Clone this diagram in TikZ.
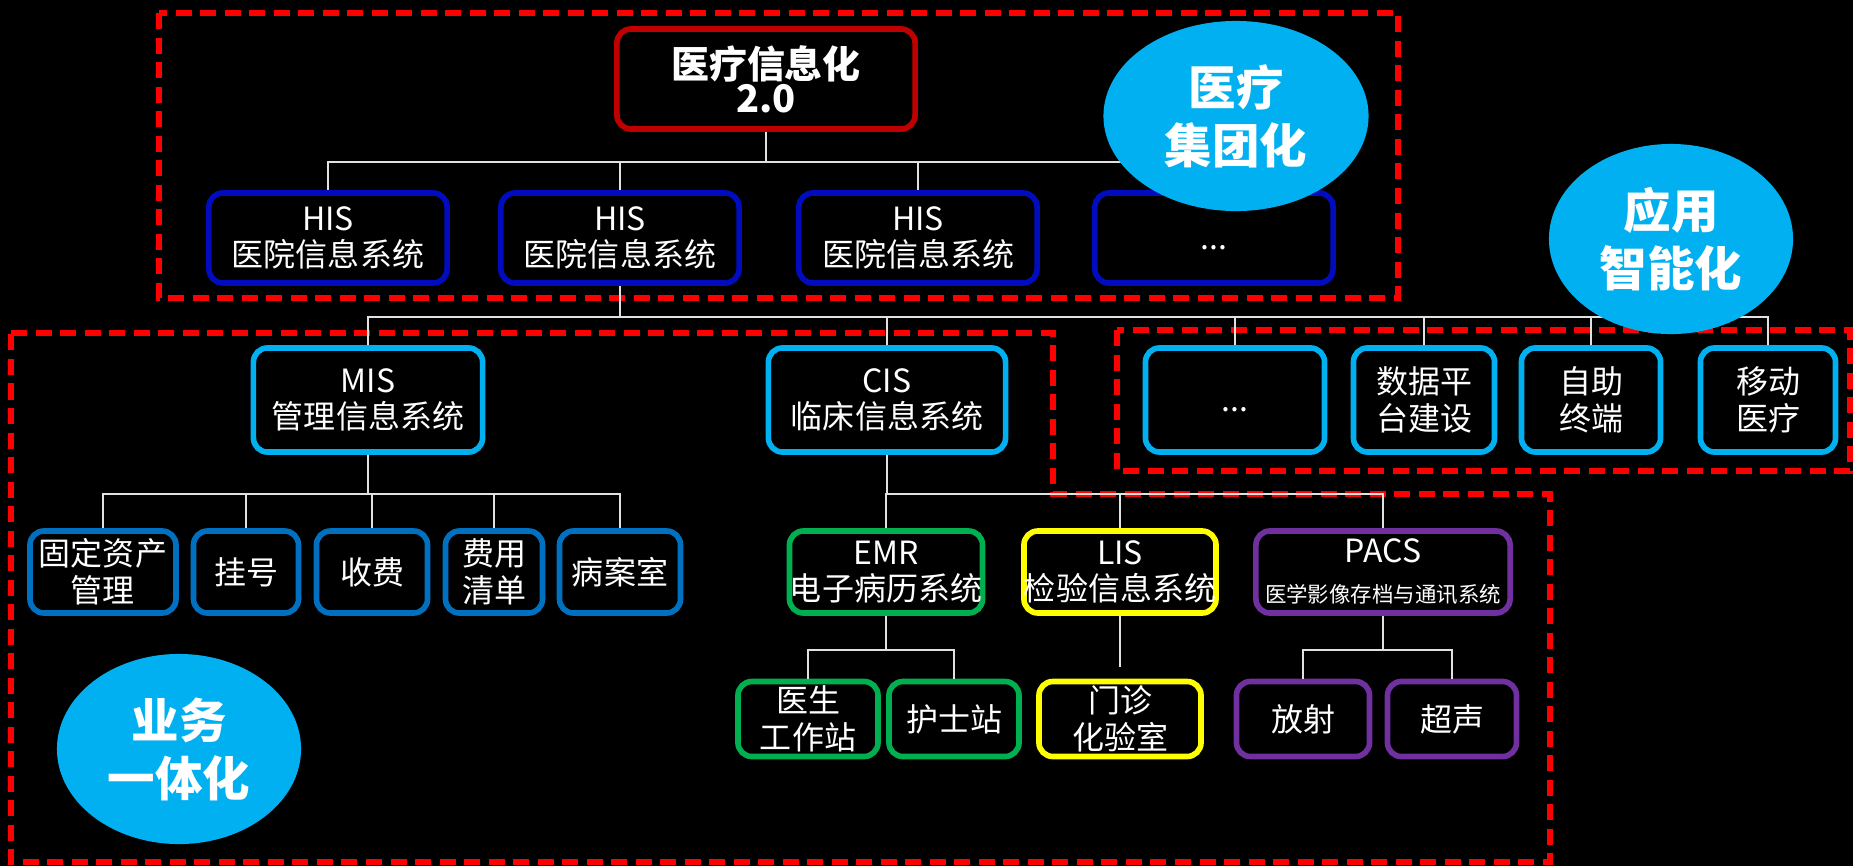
\documentclass[tikz,border=0pt]{standalone}
\usepackage{fontspec}
\setmainfont{Noto Sans CJK SC}
\usetikzlibrary{shapes.geometric}

\definecolor{topred}{RGB}{192,0,0}
\definecolor{hisblue}{RGB}{0,12,190}
\definecolor{skyblue}{RGB}{0,176,240}
\definecolor{midblue}{RGB}{0,112,192}
\definecolor{emrgreen}{RGB}{0,176,80}
\definecolor{lisyellow}{RGB}{255,255,0}
\definecolor{pacspurple}{RGB}{112,48,160}
\definecolor{wire}{RGB}{225,225,225}

\begin{document}
\begin{tikzpicture}[x=0.01cm, y=-0.01cm,
  box/.style={draw=#1, fill=black, text=white, line width=1.6pt, rounded corners=0.14cm,
    align=center, inner sep=0pt, font=\fontsize{9.1}{10.4}\selectfont},
  hisbox/.style={box=hisblue, minimum width=2.38cm, minimum height=0.9cm},
  appbox/.style={box=skyblue, minimum height=1.04cm},
  misbox/.style={box=midblue, minimum height=0.82cm},
  leafbox/.style={box=#1, minimum height=0.75cm},
  blob/.style={ellipse, fill=skyblue, text=white, inner sep=0pt, align=center,
    font=\bfseries\fontsize{13.5}{16.5}\selectfont},
  frame/.style={draw=red, line width=1.7pt, dash pattern=on 0.16cm off 0.085cm},
  conn/.style={draw=wire, line width=0.6pt}]

\fill[black] (0,0) rectangle (1853,866);

\draw[frame] (159,13) rectangle (1398,298);
\draw[frame] (1117,330) rectangle (1850,471);
\draw[frame] (11,333) -- (1053,333) -- (1053,494) -- (1550,494) -- (1550,862) -- (11,862) -- cycle;

\node[box=topred, minimum width=2.98cm, minimum height=1.0cm,
  font=\bfseries\fontsize{10.8}{9.6}\selectfont] (top) at (766,79) {医疗信息化\\2.0};

\node[hisbox] (his1) at (328,238) {HIS\\医院信息系统};
\node[hisbox] (his2) at (620,238) {HIS\\医院信息系统};
\node[hisbox] (his3) at (918,238) {HIS\\医院信息系统};
\node[hisbox] (his4) at (1214,238) {\vphantom{A}...};

\node[appbox, minimum width=2.29cm] (mis) at (368,400) {MIS\\管理信息系统};
\node[appbox, minimum width=2.37cm] (cis) at (887,400) {CIS\\临床信息系统};
\node[appbox, minimum width=1.79cm] (more) at (1235,400) {\vphantom{A}...};
\node[appbox, minimum width=1.41cm] (data) at (1424,400) {数据平\\台建设};
\node[appbox, minimum width=1.39cm] (kiosk) at (1591,400) {自助\\终端};
\node[appbox, minimum width=1.35cm] (mobile) at (1768,400) {移动\\医疗};

\node[misbox, minimum width=1.46cm] (fixed) at (103,572) {固定资产\\管理};
\node[misbox, minimum width=1.05cm] (reg) at (246,572) {挂号};
\node[misbox, minimum width=1.11cm] (fee) at (372,572) {收费};
\node[misbox, minimum width=0.97cm] (bill) at (494,572) {费用\\清单};
\node[misbox, minimum width=1.21cm] (rec) at (620,572) {病案室};

\node[leafbox=emrgreen, minimum width=1.93cm, minimum height=0.82cm] (emr) at (886,572) {EMR\\电子病历系统};
\node[leafbox=lisyellow, minimum width=1.92cm, minimum height=0.82cm] (lis) at (1120,572) {LIS\\检验信息系统};
\node[leafbox=pacspurple, minimum width=2.54cm, minimum height=0.82cm] (pacs) at (1383,572)
  {PACS\\[1pt]\fontsize{6.1}{7.3}\selectfont 医学影像存档与通讯系统};

\node[leafbox=emrgreen, minimum width=1.40cm] (doctor) at (808,719) {医生\\工作站};
\node[leafbox=emrgreen, minimum width=1.30cm] (nurse) at (954,719) {护士站};
\node[leafbox=lisyellow, minimum width=1.62cm] (clinic) at (1120,719) {门诊\\化验室};
\node[leafbox=pacspurple, minimum width=1.33cm] (rad) at (1303,719) {放射};
\node[leafbox=pacspurple, minimum width=1.29cm] (us) at (1452,719) {超声};

\coordinate (busA) at (0,162);
\coordinate (busB) at (0,317);
\coordinate (busC) at (0,494);
\coordinate (busD) at (0,650);

\foreach \n in {his1,his2,his3,his4}
  \draw[conn] (top.south) -- (top.south |- busA) -| (\n.north);
\foreach \n in {mis,cis,more,data,kiosk,mobile}
  \draw[conn] (his2.south) -- (his2.south |- busB) -| (\n.north);
\foreach \n in {fixed,reg,fee,bill,rec}
  \draw[conn] (mis.south) -- (mis.south |- busC) -| (\n.north);
\foreach \n in {emr,lis,pacs}
  \draw[conn] (cis.south) -- (cis.south |- busC) -| (\n.north);
\foreach \n in {doctor,nurse}
  \draw[conn] (emr.south) -- (emr.south |- busD) -| (\n.north);
\foreach \n in {rad,us}
  \draw[conn] (pacs.south) -- (pacs.south |- busD) -| (\n.north);
\draw[conn, shorten >=0.12cm] (lis.south) -- (clinic.north);

\node[blob, minimum width=2.65cm, minimum height=1.9cm] (group) at (1236,116) {医疗\\集团化};
\node[blob, minimum width=2.44cm, minimum height=1.9cm] (smart) at (1671,239) {应用\\智能化};
\node[blob, minimum width=2.44cm, minimum height=1.9cm] (unify) at (179,749) {业务\\一体化};

\end{tikzpicture}
\end{document}
